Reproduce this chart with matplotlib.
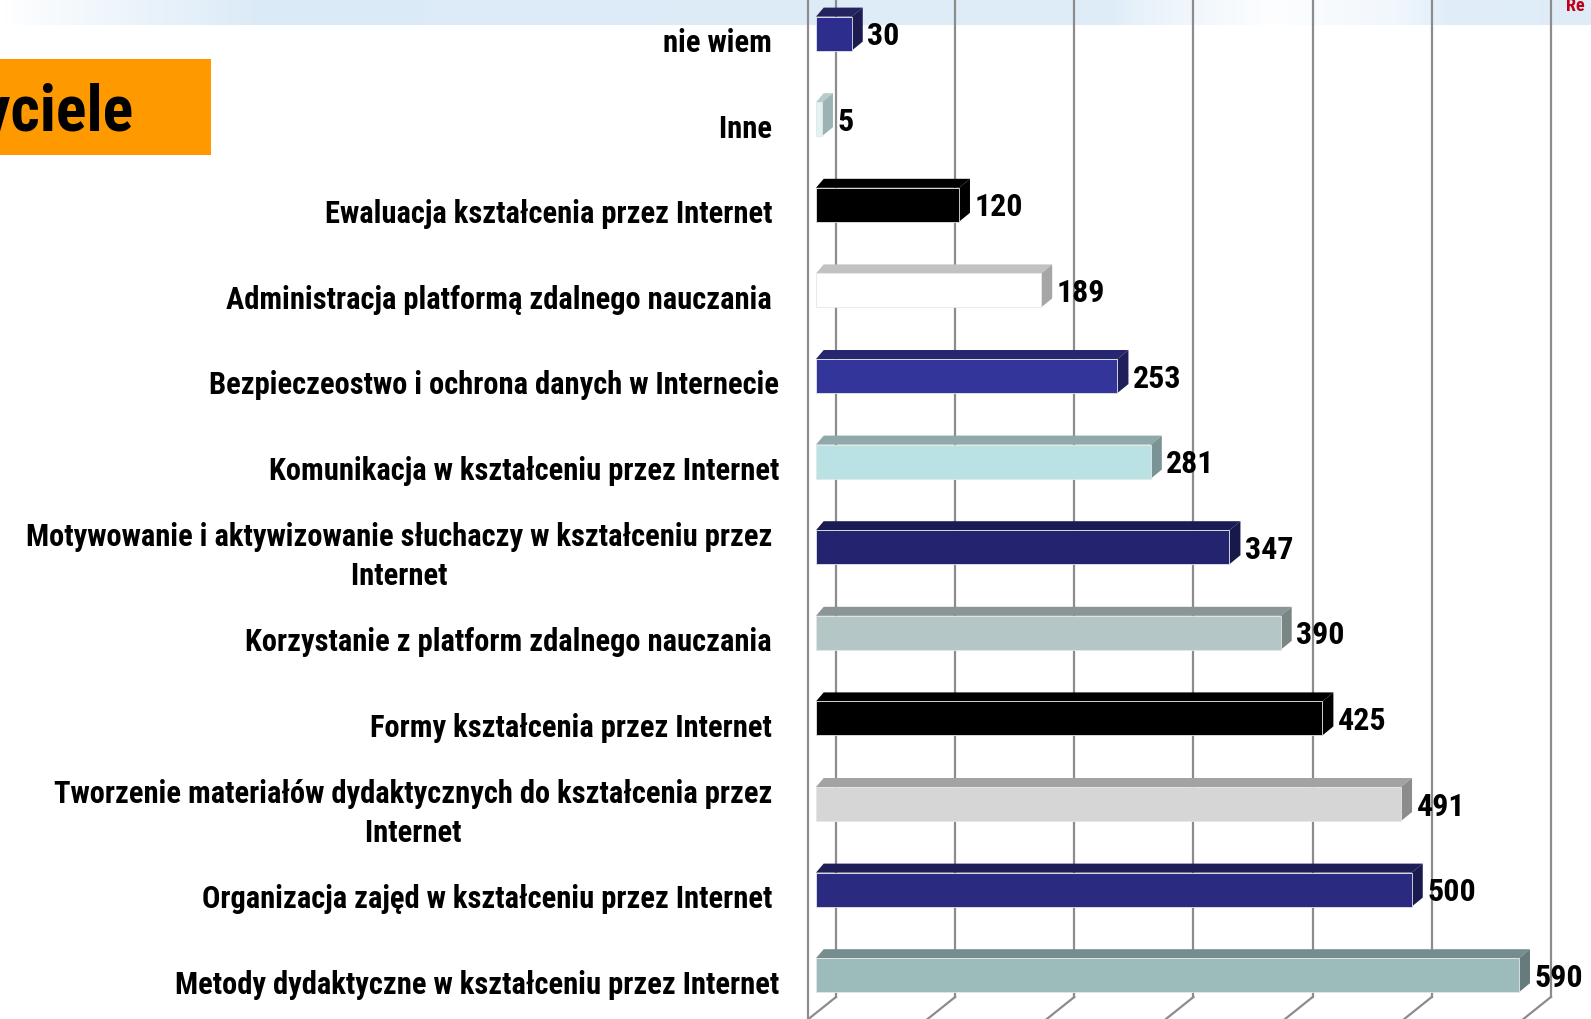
import numpy as np
import matplotlib
matplotlib.use("Agg")
import matplotlib.pyplot as plt
from matplotlib.patches import Polygon, Rectangle

# dane z wykresu (od góry do dołu)
kategorie = [
    "nie wiem ",
    "Inne ",
    "Ewaluacja kształcenia przez Internet ",
    "Administracja platformą zdalnego nauczania ",
    "Bezpieczeostwo i ochrona danych w Internecie",
    "Komunikacja w kształceniu przez Internet",
    "Motywowanie i aktywizowanie słuchaczy w kształceniu przez \nInternet ",
    "Korzystanie z platform zdalnego nauczania ",
    "Formy kształcenia przez Internet ",
    "Tworzenie materiałów dydaktycznych do kształcenia przez \nInternet ",
    "Organizacja zajęd w kształceniu przez Internet ",
    "Metody dydaktyczne w kształceniu przez Internet",
]
wartosci = [30, 5, 120, 189, 253, 281, 347, 390, 425, 491, 500, 590]

kolor_przod = ["#2c2d8c", "#e2f2f3", "#000000", "#ffffff", "#34359b", "#bae2e5",
               "#23236f", "#b5c6c6", "#000000", "#d6d6d6", "#2a2a80", "#9cbbbb"]
kolor_gora = ["#23235e", "#b8cccc", "#000000", "#c2c2c2", "#27276f", "#8fa9ab",
              "#1c1c55", "#8a9696", "#000000", "#a3a3a3", "#1e1e58", "#758d8e"]
kolor_bok = ["#1c1c50", "#9db3b3", "#000000", "#a6a6a6", "#1f1f5c", "#7a9496",
             "#18184a", "#7a8585", "#000000", "#8c8c8c", "#1a1a4e", "#667c7c"]

siatka = [0, 100, 200, 300, 400, 500, 600]

plt.rcParams["font.family"] = ["Roboto Condensed", "DejaVu Sans"]

W, H = 1591, 1019
fig = plt.figure(figsize=(W / 100, H / 100), dpi=100)
fig.patch.set_facecolor("white")

# pasek u góry
ban = fig.add_axes([0, 1 - 25 / H, 1, 25 / H])
xs = np.linspace(0, 1, 400)
jasn = np.interp(xs, [0, 0.02, 0.16, 0.70, 0.72, 0.80, 0.88, 0.91, 1.0],
                 [1.0, 0.85, 0.0, 0.1, 0.4, 0.95, 0.6, 0.15, 0.1])
c0 = np.array([0.86, 0.92, 0.97])
grad = c0[None, :] * (1 - jasn[:, None]) + np.ones(3)[None, :] * jasn[:, None]
ban.imshow(grad[None, :, :], aspect="auto", extent=[0, 1, 0, 1])
ban.axis("off")

ax = fig.add_axes([0, 0, 1, 1])
ax.patch.set_alpha(0)
px = 1.1915          # pikseli na jednostkę
x0 = 816             # początek osi (piksel)
row0, rowh = 33.6, 85.6
ax.set_xlim(-x0 / px, (W - x0) / px)
ax.set_ylim((H - row0) / rowh, -row0 / rowh)
ax.axis("off")

# ściany / siatka
szary = "#8c8c8c"
bx = 20 / px
podl = (997 - row0) / rowh
for g in siatka:
    ax.plot([g + bx, g + bx], [-1, podl], color=szary, lw=1.6, zorder=1)
    ax.plot([g + bx, g + bx - 30 / px], [podl, podl + 24 / rowh], color=szary, lw=1.6, zorder=1)
ax.plot([-8 / px, -8 / px], [-1, 12], color=szary, lw=1.6, zorder=1)

# słupki 3D
h = 34 / rowh
dx = 11 / px
dy = 9 / rowh
for i, (v, cf, ct, cs) in enumerate(zip(wartosci, kolor_przod, kolor_gora, kolor_bok)):
    y1, y2 = i - h / 2, i + h / 2
    ax.add_patch(Polygon([(0, y1), (dx * 0.7, y1 - dy), (v + dx, y1 - dy), (v, y1)],
                         closed=True, facecolor=ct, edgecolor="none", zorder=3))
    ax.add_patch(Polygon([(v, y1), (v + dx, y1 - dy), (v + dx, y2 - dy), (v, y2)],
                         closed=True, facecolor=cs, edgecolor="none", zorder=3))
    ax.add_patch(Rectangle((0, y1), v, h, facecolor=cf, edgecolor="#e6e6e6", lw=0.6, zorder=4))
    ax.text(v + 13, i + 0.03, str(v), ha="left", va="center", fontsize=23,
            fontweight="bold", color="black", zorder=5)
    ax.text(-31, i + 0.11, kategorie[i], ha="right", va="center", fontsize=22,
            fontweight="bold", color="black", multialignment="center",
            linespacing=1.35, zorder=5)

# pomarańczowa ramka z tytułem
fig.patches.append(Rectangle((0, 1 - 155 / H), 211 / W, 96 / H, transform=fig.transFigure,
                             facecolor="#ff9900", edgecolor="none", zorder=0))
fig.text(134 / W, 1 - 131 / H, "Nauczyciele", ha="right", va="baseline",
         fontsize=46, fontweight="bold", color="black")
fig.text(1566 / W, 1 - 11 / H, "Re", ha="left", va="baseline", fontsize=13,
         fontweight="bold", color="#c0001a")

fig.savefig("out.png", dpi=100, facecolor="white")
